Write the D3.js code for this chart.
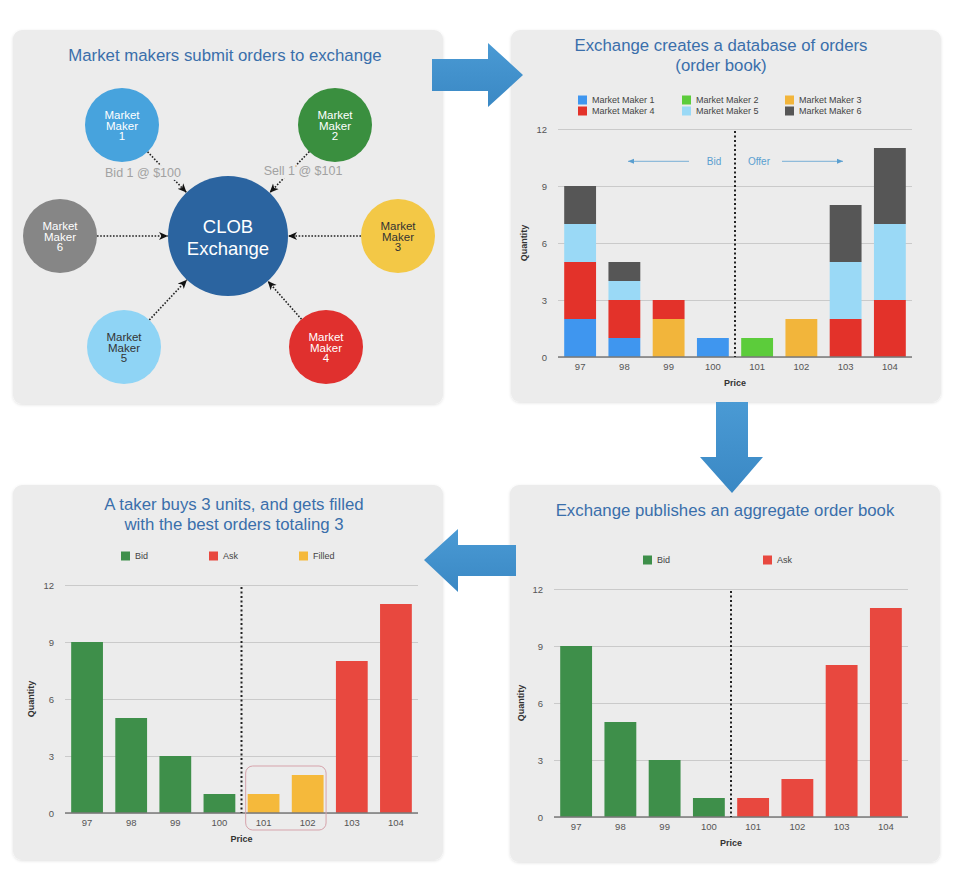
<!DOCTYPE html>
<meta charset="utf-8">
<head>
<style>
  body { margin: 0; background: #fff; }
  svg { display: block; font-family: "Liberation Sans", Arial, sans-serif; }
  .panel { fill: #ececec; }
  .title { fill: #3a6fab; font-size: 16.8px; text-anchor: middle; }
  .tick text { fill: #555; font-size: 9.5px; }
  .grid line { stroke: #cacaca; }
  .axlbl { font-size: 9px; font-weight: bold; fill: #333; text-anchor: middle; }
  .lgd { font-size: 9px; fill: #444; }
  .mmtxt { font-size: 11.5px; text-anchor: middle; }
</style>
</head>
<body>
<svg id="board" width="964" height="880"></svg>
<script src="https://d3js.org/d3.v7.min.js"></script>
<script>

var prices = ["97", "98", "99", "100", "101", "102", "103", "104"];
var yTicks = [0, 3, 6, 9, 12];

// order book per market maker (quantity at each price)
var makerNames = ["Market Maker 1", "Market Maker 2", "Market Maker 3",
                  "Market Maker 4", "Market Maker 5", "Market Maker 6"];
var mm1 = [2, 1, 0, 1, 0, 0, 0, 0];
var mm2 = [0, 0, 0, 0, 1, 0, 0, 0];
var mm3 = [0, 0, 2, 0, 0, 2, 0, 0];
var mm4 = [3, 2, 1, 0, 0, 0, 2, 3];
var mm5 = [2, 1, 0, 0, 0, 0, 3, 4];
var mm6 = [2, 1, 0, 0, 0, 0, 3, 4];

// aggregate book
var bidQty = [9, 5, 3, 1, 0, 0, 0, 0];
var askQty = [0, 0, 0, 0, 1, 2, 8, 11];

// after the taker buys 3
var takerAskQty = [0, 0, 0, 0, 0, 0, 8, 11];
var filledQty = [0, 0, 0, 0, 1, 2, 0, 0];

var orderLabels = ["Bid 1 @ $100", "Sell 1 @ $101"];

var svg = d3.select("#board");
var defs = svg.append("defs");

defs.append("filter").attr("id", "soft")
  .attr("x", "-5%").attr("y", "-5%").attr("width", "110%").attr("height", "110%")
  .append("feDropShadow").attr("dx", 0).attr("dy", 1).attr("stdDeviation", 1.5)
  .attr("flood-color", "#000").attr("flood-opacity", 0.12);

// panels
[[13, 30, 430, 374], [511, 30, 430, 372], [13, 485, 430, 375], [510, 485, 430, 377]]
  .forEach(function (p) {
    svg.append("rect").attr("class", "panel")
       .attr("x", p[0]).attr("y", p[1]).attr("width", p[2]).attr("height", p[3])
       .attr("rx", 9).attr("filter", "url(#soft)");
  });

// big flow arrows
var bigArrows = [
  [[432,59],[488,59],[488,43],[523,75],[488,107],[488,91],[432,91]],
  [[716,402],[748,402],[748,457],[763,457],[732,493],[700,457],[716,457]],
  [[516,545],[458,545],[458,529],[424,560],[458,592],[458,576],[516,576]]
];
var grad = defs.append("linearGradient").attr("id", "arrowgrad")
  .attr("x1", "0%").attr("x2", "0%").attr("y1", "0%").attr("y2", "100%");
grad.append("stop").attr("offset", "0").attr("stop-color", "#4a9ad4");
grad.append("stop").attr("offset", "1").attr("stop-color", "#3a88c4");
svg.selectAll(".bigarrow").data(bigArrows).enter().append("path")
   .attr("class", "bigarrow")
   .attr("d", function (d) { return d3.line()(d) + "Z"; })
   .attr("fill", "url(#arrowgrad)");

defs.append("marker").attr("id", "tip")
  .attr("markerUnits", "userSpaceOnUse")
  .attr("markerWidth", 10).attr("markerHeight", 10)
  .attr("refX", 9).attr("refY", 5).attr("orient", "auto")
  .append("path").attr("d", "M0,1 L9,5 L0,9 L2.5,5 Z").attr("fill", "#111");

defs.append("marker").attr("id", "thintip")
  .attr("markerUnits", "userSpaceOnUse")
  .attr("markerWidth", 8).attr("markerHeight", 8)
  .attr("refX", 6).attr("refY", 4).attr("orient", "auto")
  .append("path").attr("d", "M0,1.5 L6,4 L0,6.5 Z").attr("fill", "#5a9fd0");

// ---- panel 1: the diagram ----
svg.append("text").attr("class", "title").attr("x", 225).attr("y", 61)
   .text("Market makers submit orders to exchange");

var hub = { x: 228, y: 236, r: 60 };
var nodeSpots = [[122,125],[335,125],[398,236],[326,347],[124,347],[60,236]];
var circleColors = ["#47a3dd", "#3a8f3f", "#f3c846", "#e0302e", "#8fd4f5", "#868686"];
var circleInk = ["#fff", "#fff", "#333", "#fff", "#333", "#fff"];
var nodeR = 37;

var nodes = makerNames.map(function (n, i) {
  return { name: n, x: nodeSpots[i][0], y: nodeSpots[i][1], col: circleColors[i], ink: circleInk[i], num: i + 1 };
});

svg.selectAll(".link").data(nodes).enter().append("line")
   .attr("class", "link")
   .each(function (d) {
     var dx = hub.x - d.x, dy = hub.y - d.y, len = Math.sqrt(dx*dx + dy*dy);
     d3.select(this)
       .attr("x1", d.x + dx / len * nodeR).attr("y1", d.y + dy / len * nodeR)
       .attr("x2", hub.x - dx / len * hub.r).attr("y2", hub.y - dy / len * hub.r);
   })
   .attr("stroke", "#222").attr("stroke-width", 1.6)
   .attr("stroke-dasharray", "1.6,1.6")
   .attr("marker-end", "url(#tip)");

svg.selectAll(".orderlbl").data(orderLabels).enter().append("text")
   .attr("x", function (d, i) { return i ? 303 : 143; })
   .attr("y", function (d, i) { return i ? 175 : 177; })
   .attr("text-anchor", "middle")
   .attr("font-size", 12.5)
   .attr("fill", "#a2a2a2")
   .attr("stroke", "#ececec").attr("stroke-width", 7)
   .attr("paint-order", "stroke")
   .text(function (d) { return d; });

svg.append("circle").attr("cx", hub.x).attr("cy", hub.y).attr("r", hub.r).attr("fill", "#2b64a0");
svg.append("text").attr("x", hub.x).attr("y", 233).attr("text-anchor", "middle")
   .attr("font-size", 18.5).attr("fill", "#fff").text("CLOB");
svg.append("text").attr("x", hub.x).attr("y", 255).attr("text-anchor", "middle")
   .attr("font-size", 18.5).attr("fill", "#fff").text("Exchange");

var ng = svg.selectAll(".node").data(nodes).enter().append("g")
   .attr("transform", function (d) { return "translate(" + d.x + "," + d.y + ")"; });
ng.append("circle").attr("r", nodeR).attr("fill", function (d) { return d.col; });
ng.each(function (d) {
  var t = d3.select(this);
  ["Market", "Maker", String(d.num)].forEach(function (w, k) {
    t.append("text").attr("class", "mmtxt").attr("y", -6 + k * 10.5)
     .attr("fill", d.ink).text(w);
  });
});

// ---- bar charts ----
function orderChart(box, keys, colors) {
  var rows = prices.map(function (p, i) {
    var r = { price: p };
    keys.forEach(function (k) { r[k.name] = k.vals[i]; });
    return r;
  });
  var stacked = d3.stack().keys(keys.map(function (k) { return k.name; }))(rows);

  var x = d3.scaleBand().domain(prices).range([box.x0, box.x1])
            .paddingInner(0.28).paddingOuter(0.14);
  var y = d3.scaleLinear().domain([0, 12]).range([box.y0, box.y12]);
  var g = svg.append("g");

  g.append("g").attr("class", "grid")
   .attr("transform", "translate(" + box.x0 + ",0)")
   .call(d3.axisLeft(y).tickValues(yTicks).tickSize(-(box.x1 - box.x0)).tickPadding(11))
   .call(function (a) { a.select(".domain").remove(); });

  g.selectAll(".layer").data(stacked).enter().append("g")
   .attr("fill", function (d, i) { return colors[i]; })
   .selectAll("rect").data(function (d) { return d; }).enter().append("rect")
   .attr("x", function (d) { return x(d.data.price); })
   .attr("y", function (d) { return y(d[1]); })
   .attr("width", x.bandwidth())
   .attr("height", function (d) { return y(d[0]) - y(d[1]); });

  g.append("line").attr("x1", box.x0).attr("x2", box.x1)
   .attr("y1", y(0)).attr("y2", y(0)).attr("stroke", "#7a7a7a").attr("stroke-width", 1.3);

  g.append("g").attr("transform", "translate(0," + y(0) + ")")
   .call(d3.axisBottom(x).tickSize(0).tickPadding(6))
   .call(function (a) { a.select(".domain").remove(); });

  var mid = (x("100") + x.bandwidth() + x("101")) / 2;
  g.append("line").attr("x1", mid).attr("x2", mid)
   .attr("y1", y(12) + 2).attr("y2", y(0))
   .attr("stroke", "#222").attr("stroke-width", 2).attr("stroke-dasharray", "2,2.5");

  g.append("text").attr("class", "axlbl")
   .attr("transform", "translate(" + box.qx + "," + (box.y0 + box.y12) / 2 + ") rotate(-90)")
   .text("Quantity");
  g.append("text").attr("class", "axlbl").attr("x", mid).attr("y", box.y0 + 29).text("Price");

  return { x: x, y: y, mid: mid };
}

function legend(items) {
  items.forEach(function (it) {
    svg.append("rect").attr("x", it[0]).attr("y", it[1] - 4.5)
       .attr("width", 9).attr("height", 9).attr("fill", it[3]);
    svg.append("text").attr("class", "lgd").attr("x", it[0] + 14).attr("y", it[1] + 3.3).text(it[2]);
  });
}

// panel 2: order book by maker
svg.append("text").attr("class", "title").attr("x", 721).attr("y", 51)
   .text("Exchange creates a database of orders");
svg.append("text").attr("class", "title").attr("x", 721).attr("y", 71).text("(order book)");

var chartMakerColors = ["#3f96ef", "#5ccc3b", "#f2b53b", "#e3322a", "#9ad9f6", "#565656"];
var book = orderChart({ x0: 558, x1: 912, y0: 357, y12: 129, qx: 527 },
  [mm1, mm2, mm3, mm4, mm5, mm6].map(function (v, i) { return { name: makerNames[i], vals: v }; }),
  chartMakerColors);
legend(makerNames.map(function (n, i) {
  return [[578, 682, 785][i % 3], i < 3 ? 100 : 111, n, chartMakerColors[i]];
}));

var annY = book.y(10.3);
svg.append("text").attr("x", book.mid - 21).attr("y", annY + 3.5).attr("text-anchor", "middle")
   .attr("font-size", 10).attr("fill", "#5a9fd0").text("Bid");
svg.append("text").attr("x", book.mid + 24).attr("y", annY + 3.5).attr("text-anchor", "middle")
   .attr("font-size", 10).attr("fill", "#5a9fd0").text("Offer");
svg.append("line").attr("x1", book.mid - 46).attr("x2", book.mid - 107)
   .attr("y1", annY).attr("y2", annY).attr("stroke", "#5a9fd0").attr("stroke-width", 0.8)
   .attr("marker-end", "url(#thintip)");
svg.append("line").attr("x1", book.mid + 47).attr("x2", book.mid + 108)
   .attr("y1", annY).attr("y2", annY).attr("stroke", "#5a9fd0").attr("stroke-width", 0.8)
   .attr("marker-end", "url(#thintip)");

// panel 4: aggregate book
var bidCol = "#3e8f4a", askCol = "#e8483f", fillCol = "#f5b93b";
svg.append("text").attr("class", "title").attr("x", 725).attr("y", 516)
   .text("Exchange publishes an aggregate order book");
orderChart({ x0: 554, x1: 908, y0: 817, y12: 589, qx: 524 },
  [{ name: "Bid", vals: bidQty }, { name: "Ask", vals: askQty }], [bidCol, askCol]);
legend([[643, 560, "Bid", bidCol], [763, 560, "Ask", askCol]]);

// panel 3: taker fill
svg.append("text").attr("class", "title").attr("x", 234).attr("y", 510)
   .text("A taker buys 3 units, and gets filled");
svg.append("text").attr("class", "title").attr("x", 234).attr("y", 530)
   .text("with the best orders totaling 3");
var taker = orderChart({ x0: 65, x1: 418, y0: 813, y12: 585, qx: 34 },
  [{ name: "Bid", vals: bidQty }, { name: "Ask", vals: takerAskQty }, { name: "Filled", vals: filledQty }],
  [bidCol, askCol, fillCol]);
legend([[121, 556, "Bid", bidCol], [209, 556, "Ask", askCol], [299, 556, "Filled", fillCol]]);

svg.append("rect")
   .attr("x", taker.x("101") - 2).attr("y", taker.y(2) - 9)
   .attr("width", taker.x("102") + taker.x.bandwidth() - taker.x("101") + 4.5)
   .attr("height", taker.y(0) - taker.y(2) + 26)
   .attr("rx", 7).attr("fill", "none").attr("stroke", "#d6a3ab").attr("stroke-width", 1);

</script>
</body>
